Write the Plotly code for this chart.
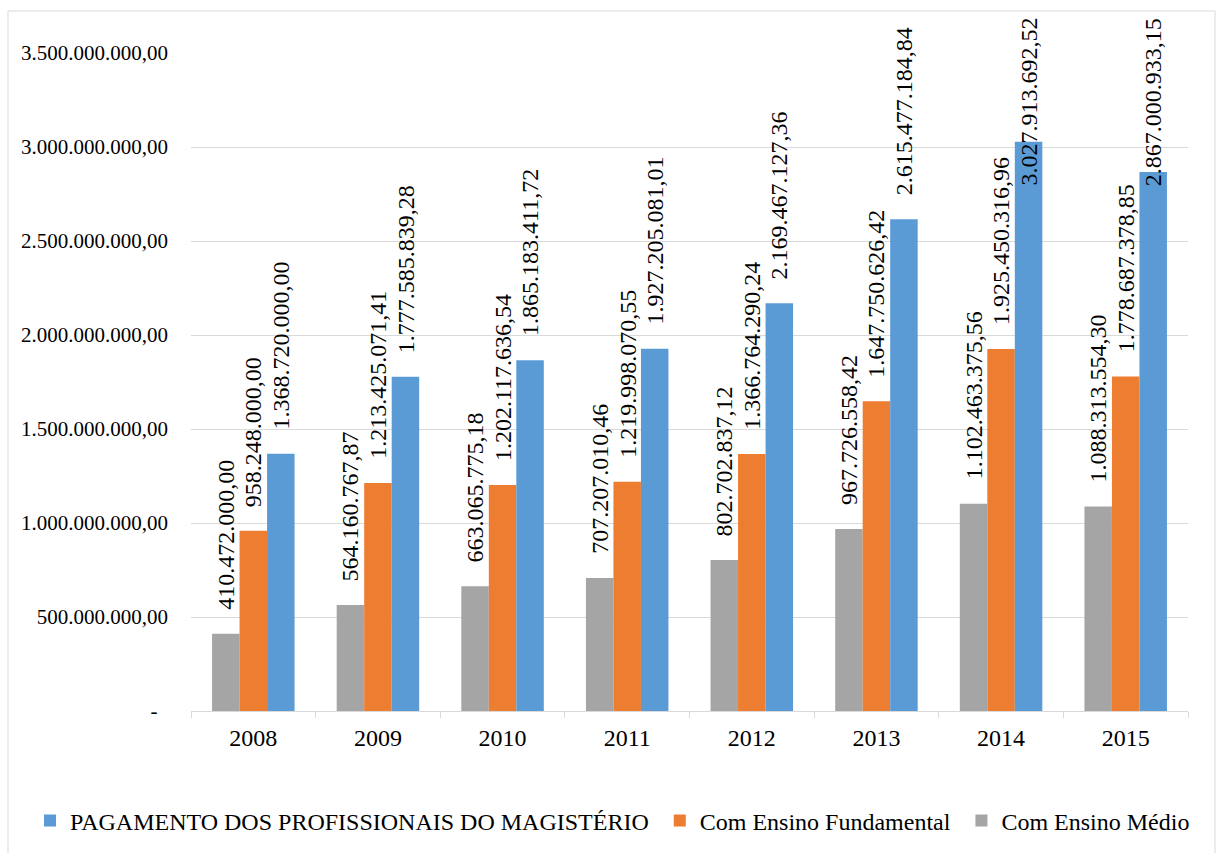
import plotly.graph_objects as go

years = ["2008", "2009", "2010", "2011", "2012", "2013", "2014", "2015"]
medio = [410472000.00, 564160767.87, 663065775.18, 707207010.46,
         802702837.12, 967726558.42, 1102463375.56, 1088313554.30]
fundamental = [958248000.00, 1213425071.41, 1202117636.54, 1219998070.55,
               1366764290.24, 1647750626.42, 1925450316.96, 1778687378.85]
pagamento = [1368720000.00, 1777585839.28, 1865183411.72, 1927205081.01,
             2169467127.36, 2615477184.84, 3027913692.52, 2867000933.15]
ytick_vals = [0, 500e6, 1000e6, 1500e6, 2000e6, 2500e6, 3000e6, 3500e6]

names = ["Com Ensino Médio", "Com Ensino Fundamental",
         "PAGAMENTO DOS PROFISSIONAIS DO MAGISTÉRIO"]
legend_pad = ["", "\u00a0", "\u00a0"]
colors = ["#A5A5A5", "#ED7D31", "#5B9BD5"]
series = [medio, fundamental, pagamento]

FONT = "Liberation Serif"
W, H = 1217, 853
ML, MR, MT, MB = 191, 29, 53, 142
PW, PH = W - ML - MR, H - MT - MB
YMAX = 3.5e9
BARGAP = 0.338
LBL_SIZE = 24
LBL_GAP = 22
TOP_LIMIT = 16


def br(v):
    s = f"{v:,.2f}"
    return s.replace(",", "X").replace(".", ",").replace("X", ".")


def ytick_text(v):
    return "-\u00a0\u00a0" if v == 0 else br(v)


fig = go.Figure()
for name, pad, col, vals in zip(names, legend_pad, colors, series):
    fig.add_trace(go.Bar(x=years, y=vals, name=name + pad, marker_color=col,
                         marker_line_width=0))

cat_w = PW / len(years)
bw = cat_w * (1 - BARGAP) / 3
annotations = []
for si, vals in enumerate(series):
    shift = (si - 1) * bw
    for i, v in enumerate(vals):
        txt = br(v)
        ypix = MT + PH * (1 - v / YMAX)
        ndig = sum(c.isdigit() for c in txt)
        length = LBL_SIZE * (0.5 * ndig + 0.25 * (len(txt) - ndig))
        bottom = ypix - LBL_GAP
        common = dict(x=i, xref="x", text=txt, showarrow=False, textangle=-90,
                      xshift=shift, font=dict(family=FONT, size=LBL_SIZE, color="#000"))
        if bottom - length < TOP_LIMIT:
            annotations.append(dict(y=(H - MB - TOP_LIMIT) / PH, yref="paper",
                                    yanchor="top", **common))
        else:
            annotations.append(dict(y=v, yref="y", yanchor="bottom",
                                    yshift=LBL_GAP, **common))

shapes = [dict(type="rect", xref="paper", yref="paper",
               x0=(8 - ML) / PW, x1=(1215 - ML) / PW,
               y0=(H - MB - 880) / PH, y1=(H - MB - 11) / PH,
               line=dict(color="#D9D9D9", width=1), fillcolor="rgba(0,0,0,0)",
               layer="below")]

fig.update_layout(
    width=W, height=H,
    margin=dict(l=ML, r=MR, t=MT, b=MB, autoexpand=False),
    paper_bgcolor="white", plot_bgcolor="white",
    barmode="group", bargap=BARGAP, bargroupgap=0,
    font=dict(family=FONT, size=24, color="#000"),
    annotations=annotations, shapes=shapes,
    legend=dict(orientation="h", x=(30 - ML) / PW, xanchor="left",
                y=(H - MB - 821) / PH, yanchor="middle", traceorder="reversed",
                font=dict(family=FONT, size=24, color="#000")),
    xaxis=dict(type="category", range=[-0.5, len(years) - 0.5],
               showline=True, linecolor="#D9D9D9", linewidth=1,
               ticks="outside", tickson="boundaries", ticklen=6,
               tickcolor="#D9D9D9", showgrid=False, ticklabelstandoff=5,
               tickfont=dict(family=FONT, size=24, color="#000")),
    yaxis=dict(range=[0, YMAX], tickvals=ytick_vals,
               ticktext=[ytick_text(v) for v in ytick_vals],
               showgrid=True, gridcolor="#D9D9D9", gridwidth=1,
               zeroline=False, showline=False, ticks="",
               ticklabelstandoff=22,
               tickfont=dict(family=FONT, size=21, color="#000")),
)

fig.write_html("out.html")
